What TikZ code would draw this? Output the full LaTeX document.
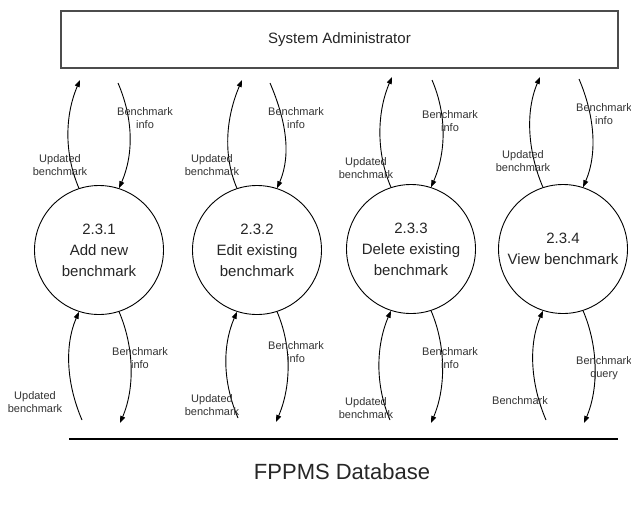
\documentclass[tikz,border=0pt]{standalone}
\usepackage{fontspec}
\setmainfont{Liberation Sans}
\usetikzlibrary{arrows.meta}
\begin{document}
\begin{tikzpicture}[x=1pt,y=-1pt,
  entity/.style={draw=black!70, line width=1.3pt, minimum width=557pt, minimum height=57pt, inner sep=0pt, font=\fontsize{15}{18}\selectfont, text=black!85},
  proc/.style={circle, draw=black, line width=0.9pt, minimum size=129pt, inner sep=0pt, align=center, font=\fontsize{15}{21}\selectfont, text=black!85},
  flow/.style={line width=0.9pt, -{Triangle[length=7pt,width=5pt]}},
  lbl/.style={font=\fontsize{11}{12.5}\selectfont, align=center, text=black!80, inner sep=0pt},
  store/.style={line width=1.1pt, draw=black}]
\useasboundingbox (0,0) rectangle (631,504);
\fill[white] (0,0) rectangle (631,504);

\node[entity] (sa) at (339.5,39.5) {System Administrator};

\node[proc] (c1) at (99,250) {2.3.1\\Add new\\benchmark};
\node[proc] (c2) at (257,250) {2.3.2\\Edit existing\\benchmark};
\node[proc] (c3) at (411,249) {2.3.3\\Delete existing\\benchmark};
\node[proc] (c4) at (563,249) {2.3.4\\View benchmark};

\coordinate (db1) at (69,439);
\coordinate (db2) at (618,439);
\draw[store] (db1) -- (db2);
\node[font=\fontsize{22}{26}\selectfont, text=black!85] (dbl) at (342,472) {FPPMS Database};

% free ends near the entity box and the data store
\coordinate (t1u) at (80,80);  \coordinate (t1d) at (118,83);
\coordinate (b1u) at (82,420); \coordinate (b1d) at (120,423);
\coordinate (t2u) at (242,80); \coordinate (t2d) at (270,83);
\coordinate (b2u) at (238,418); \coordinate (b2d) at (276,422);
\coordinate (t3u) at (392,77); \coordinate (t3d) at (432,80);
\coordinate (b3u) at (390,420); \coordinate (b3d) at (431,423);
\coordinate (t4u) at (540,77); \coordinate (t4d) at (579,79);
\coordinate (b4u) at (546,420); \coordinate (b4d) at (584,423);

\foreach \i in {1,2,3,4}{
  \draw[flow] (c\i.108) .. controls +(-15,-35) and +(-15,35) .. (t\i u);
  \draw[flow] (t\i d) .. controls +(15,35) and +(15,-35) .. (c\i.72);
  \draw[flow] (b\i u) .. controls +(-15,-35) and +(-15,35) .. (c\i.252);
  \draw[flow] (c\i.288) .. controls +(15,35) and +(15,-35) .. (b\i d);
}

% labels
\node[lbl] (l1a) at (145,118) {Benchmark\\info};
\node[lbl] (l1b) at (60,165) {Updated\\benchmark};
\node[lbl] (l1c) at (140,358) {Benchmark\\info};
\node[lbl] (l1d) at (35,402) {Updated\\benchmark};

\node[lbl] (l2a) at (296,118) {Benchmark\\info};
\node[lbl] (l2b) at (212,165) {Updated\\benchmark};
\node[lbl] (l2c) at (296,352) {Benchmark\\info};
\node[lbl] (l2d) at (212,405) {Updated\\benchmark};

\node[lbl] (l3a) at (450,121) {Benchmark\\info};
\node[lbl] (l3b) at (366,168) {Updated\\benchmark};
\node[lbl] (l3c) at (450,358) {Benchmark\\info};
\node[lbl] (l3d) at (366,408) {Updated\\benchmark};

\node[lbl] (l4a) at (604,114) {Benchmark\\info};
\node[lbl] (l4b) at (523,161) {Updated\\benchmark};
\node[lbl] (l4c) at (604,368) {Benchmark\\query};
\node[lbl] (l4d) at (520,401) {Benchmark};
\end{tikzpicture}
\end{document}
